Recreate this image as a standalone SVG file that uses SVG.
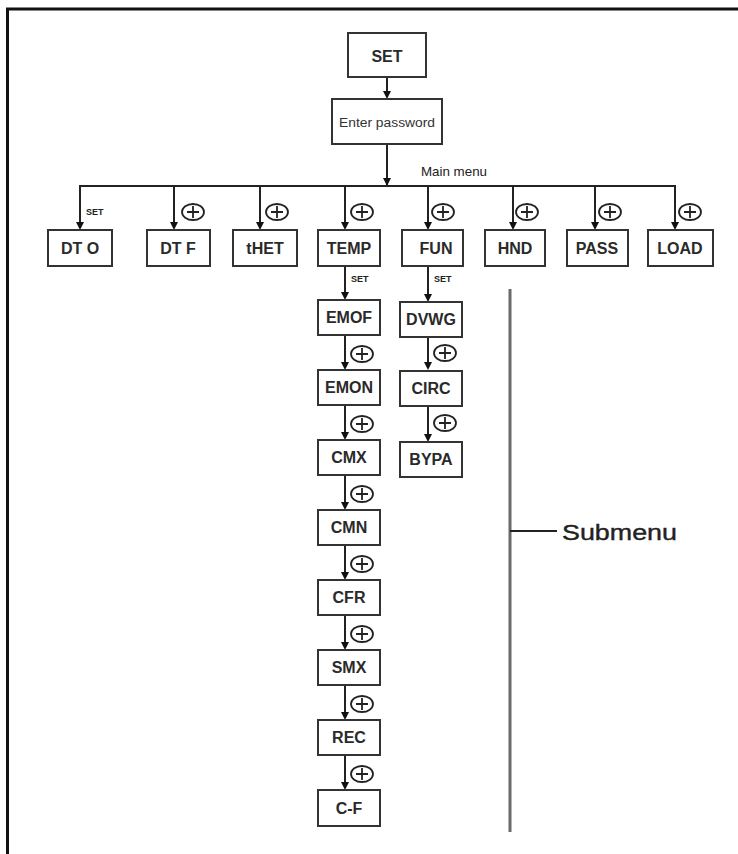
<svg xmlns="http://www.w3.org/2000/svg" width="738" height="854" viewBox="0 0 738 854">
<style>
.box{fill:#fff;stroke:#333;stroke-width:2}
.lbl{font-family:"Liberation Sans",Arial,sans-serif;font-weight:bold;font-size:16px;fill:#2a2a2a;text-anchor:middle}
.ln{stroke:#222;stroke-width:2;fill:none}
.sm{font-family:"Liberation Sans",Arial,sans-serif;font-weight:bold;font-size:9px;fill:#222}
.cp{fill:#fff;stroke:#222;stroke-width:1.8}
.ah{fill:#111}
</style>
<defs>
<g id="plus">
<ellipse cx="0" cy="0" rx="11" ry="8" class="cp"/>
<path d="M-6,0 H6 M0,-6 V6" stroke="#222" stroke-width="1.8"/>
</g>
</defs>
<rect width="738" height="854" fill="#fff"/>
<g id="frame">
<path d="M6,9 H738 M7.5,9 V854" stroke="#111" stroke-width="3" fill="none"/>
</g>
<g id="connectors">
<line class="ln" x1="387" y1="77" x2="387" y2="93"/>
<path class="ah" d="M383,91 L391,91 L387,99 Z"/>
<line class="ln" x1="387" y1="144" x2="387" y2="186"/>
<path class="ah" d="M383,178 L391,178 L387,186 Z"/>
<line class="ln" x1="79" y1="186" x2="676" y2="186"/>
<g id="drops">
<line class="ln" x1="80" y1="186" x2="80" y2="224"/>
<line class="ln" x1="174" y1="186" x2="174" y2="224"/>
<line class="ln" x1="260" y1="186" x2="260" y2="224"/>
<line class="ln" x1="345" y1="186" x2="345" y2="224"/>
<line class="ln" x1="428" y1="186" x2="428" y2="224"/>
<line class="ln" x1="513" y1="186" x2="513" y2="224"/>
<line class="ln" x1="595" y1="186" x2="595" y2="224"/>
<line class="ln" x1="675" y1="186" x2="675" y2="224"/>
<path class="ah" d="M76,222 h8 l-4,8 Z M170,222 h8 l-4,8 Z M256,222 h8 l-4,8 Z M341,222 h8 l-4,8 Z M424,222 h8 l-4,8 Z M509,222 h8 l-4,8 Z M591,222 h8 l-4,8 Z M671,222 h8 l-4,8 Z"/>
</g>
<g id="temp-col">
<path class="ln" d="M345,266 V294 M345,335 V364 M345,405 V434 M345,475 V504 M345,545 V574 M345,615 V644 M345,685 V714 M345,755 V784"/>
<path class="ah" d="M341,292 h8 l-4,8 Z M341,362 h8 l-4,8 Z M341,432 h8 l-4,8 Z M341,502 h8 l-4,8 Z M341,572 h8 l-4,8 Z M341,642 h8 l-4,8 Z M341,712 h8 l-4,8 Z M341,782 h8 l-4,8 Z"/>
</g>
<g id="fun-col">
<path class="ln" d="M428,266 V296 M428,337 V364 M428,406 V436"/>
<path class="ah" d="M424,294 h8 l-4,8 Z M424,362 h8 l-4,8 Z M424,434 h8 l-4,8 Z"/>
</g>
<g id="submenu-bracket">
<line x1="510" y1="289" x2="510" y2="832" stroke="#6a6a6a" stroke-width="3"/>
<line x1="510" y1="531" x2="557" y2="531" stroke="#222" stroke-width="2"/>
</g>
</g>
<g id="n-set"><rect class="box" x="348" y="33" width="78" height="44"/><text class="lbl" x="387" y="62" font-size="18">SET</text></g>
<g id="n-pwd"><rect class="box" x="332" y="99" width="110" height="45"/><text x="387" y="127" font-family="'Liberation Sans',Arial,sans-serif" font-size="12" fill="#333" text-anchor="middle" textLength="96" lengthAdjust="spacingAndGlyphs">Enter password</text></g>
<text x="421" y="176" font-family="'Liberation Sans',Arial,sans-serif" font-size="13" fill="#222" textLength="66" lengthAdjust="spacingAndGlyphs">Main menu</text>
<g id="n-dto"><rect class="box" x="48" y="230" width="64" height="36"/><text class="lbl" x="80" y="254">DT O</text></g>
<g id="n-dtf"><rect class="box" x="147" y="230" width="63" height="36"/><text class="lbl" x="178" y="254">DT F</text></g>
<g id="n-thet"><rect class="box" x="233" y="230" width="64" height="36"/><text class="lbl" x="265" y="254">tHET</text></g>
<g id="n-temp"><rect class="box" x="318" y="230" width="62" height="36"/><text class="lbl" x="349" y="254">TEMP</text></g>
<g id="n-fun"><rect class="box" x="402" y="230" width="61" height="36"/><text class="lbl" x="436" y="254">FUN</text></g>
<g id="n-hnd"><rect class="box" x="485" y="230" width="60" height="36"/><text class="lbl" x="515" y="254">HND</text></g>
<g id="n-pass"><rect class="box" x="567" y="230" width="61" height="36"/><text class="lbl" x="597" y="254">PASS</text></g>
<g id="n-load"><rect class="box" x="648" y="230" width="65" height="36"/><text class="lbl" x="680" y="254">LOAD</text></g>
<g id="n-emof"><rect class="box" x="318" y="300" width="62" height="35"/><text class="lbl" x="349" y="323">EMOF</text></g>
<g id="n-emon"><rect class="box" x="318" y="370" width="62" height="35"/><text class="lbl" x="349" y="393">EMON</text></g>
<g id="n-cmx"><rect class="box" x="318" y="440" width="62" height="35"/><text class="lbl" x="349" y="463">CMX</text></g>
<g id="n-cmn"><rect class="box" x="318" y="510" width="62" height="35"/><text class="lbl" x="349" y="533">CMN</text></g>
<g id="n-cfr"><rect class="box" x="318" y="580" width="62" height="35"/><text class="lbl" x="349" y="603">CFR</text></g>
<g id="n-smx"><rect class="box" x="318" y="650" width="62" height="35"/><text class="lbl" x="349" y="673">SMX</text></g>
<g id="n-rec"><rect class="box" x="318" y="720" width="62" height="35"/><text class="lbl" x="349" y="743">REC</text></g>
<g id="n-cf"><rect class="box" x="318" y="790" width="62" height="36"/><text class="lbl" x="349" y="814">C-F</text></g>
<g id="n-dvwg"><rect class="box" x="400" y="302" width="62" height="35"/><text class="lbl" x="431" y="325">DVWG</text></g>
<g id="n-circ"><rect class="box" x="400" y="371" width="62" height="35"/><text class="lbl" x="431" y="394">CIRC</text></g>
<g id="n-bypa"><rect class="box" x="400" y="442" width="62" height="35"/><text class="lbl" x="431" y="465">BYPA</text></g>
<g id="labels">
<text class="sm" x="86" y="215">SET</text>
<text class="sm" x="351" y="282">SET</text>
<text class="sm" x="434" y="282">SET</text>
<use href="#plus" x="193" y="212"/>
<use href="#plus" x="277" y="212"/>
<use href="#plus" x="362" y="212"/>
<use href="#plus" x="443" y="212"/>
<use href="#plus" x="527" y="212"/>
<use href="#plus" x="610" y="212"/>
<use href="#plus" x="690" y="212"/>
<use href="#plus" x="362" y="354"/>
<use href="#plus" x="362" y="424"/>
<use href="#plus" x="362" y="494"/>
<use href="#plus" x="362" y="564"/>
<use href="#plus" x="362" y="634"/>
<use href="#plus" x="362" y="704"/>
<use href="#plus" x="362" y="774"/>
<use href="#plus" x="445" y="353"/>
<use href="#plus" x="445" y="423"/>
<text x="562" y="540" font-family="'Liberation Sans',Arial,sans-serif" font-size="22" fill="#222" stroke="#222" stroke-width="0.4" textLength="115" lengthAdjust="spacingAndGlyphs">Submenu</text>
</g>
</svg>
